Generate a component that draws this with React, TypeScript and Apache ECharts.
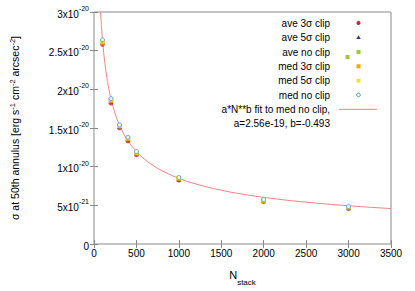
import React, { useEffect, useRef } from "react";
import * as echarts from "echarts";

// values in units of 1e-21 erg s^-1 cm^-2 arcsec^-2
const nStack = [100, 200, 300, 400, 500, 1000, 2000, 3000];
const ave3 = [25.8, 18.2, 15.0, 13.3, 11.5, 8.25, 5.5, 4.6];
const ave5 = [26.1, 18.5, 15.2, 13.6, 11.7, 8.4, 5.6, 4.7];
const aveNo = [26.2, 18.6, 15.3, 13.7, 11.8, 8.5, 5.65, 4.75];
const med3 = [26.0, 18.5, 15.2, 13.6, 11.7, 8.45, 5.6, 4.75];
const med5 = [26.2, 18.7, 15.3, 13.7, 11.85, 8.55, 5.7, 4.8];
const medNo = [26.4, 18.8, 15.4, 13.8, 11.95, 8.6, 5.75, 4.85];

const fitA = 256; // 2.56e-19 in units of 1e-21
const fitB = -0.493;
const fitN = [77, 80, 85, 90, 100, 110, 125, 150, 175, 200, 250, 300, 350, 400, 500, 600, 700, 800, 1000, 1200, 1500, 1800, 2100, 2500, 3000, 3500];

const yMant = ["0", "5", "1", "1.5", "2", "2.5", "3"];
const yExp = ["", "-21", "-20", "-20", "-20", "-20", "-20"];

const seriesNames = ["ave 3σ clip", "ave 5σ clip", "ave no clip", "med 3σ clip", "med 5σ clip", "med no clip"];
const fitLabel1 = "a*N**b fit to med no clip,";
const fitLabel2 = "a=2.56e-19, b=-0.493";

const FONT = '"Liberation Sans", Arial, sans-serif';
const GRAY = "#8a8a8a";
const FS = 10;

export default function App() {
  const ref = useRef<HTMLDivElement>(null);
  useEffect(() => {
    if (!ref.current) return;
    const chart = echarts.init(ref.current, undefined, { renderer: "svg" });
    const mk = (name: string, data: number[], symbol: string, color: string, size: number, hollow = false) => ({
      name,
      type: "scatter",
      data: nStack.map((n, i) => [n, data[i]]),
      symbol,
      symbolSize: size,
      itemStyle: hollow
        ? { color: "#fff", borderColor: color, borderWidth: 1 }
        : { color },
      z: 3,
    });
    const rowY = [23, 37.5, 52, 66.3, 80.7, 95];
    const textX = 330;
    const markX = 358.5;
    const legendText = (t: string, y: number) => ({
      type: "text",
      x: textX,
      y,
      style: { text: t, align: "right", verticalAlign: "middle", font: `${FS}px ${FONT}`, fill: "#000" },
    });
    const graphics: any[] = [];
    seriesNames.forEach((n, i) => graphics.push(legendText(n, rowY[i])));
    graphics.push(legendText(fitLabel1, 109.3));
    graphics.push(legendText(fitLabel2, 123.3));
    graphics.push({ type: "circle", shape: { cx: markX, cy: rowY[0], r: 2 }, style: { fill: "#d0202c" } });
    graphics.push({
      type: "polygon",
      shape: { points: [[markX, rowY[1] - 2.3], [markX - 2.2, rowY[1] + 1.6], [markX + 2.2, rowY[1] + 1.6]] },
      style: { fill: "#2a3590" },
    });
    graphics.push({ type: "rect", shape: { x: markX - 2, y: rowY[2] - 2, width: 4, height: 4 }, style: { fill: "#9acd32" } });
    graphics.push({ type: "rect", shape: { x: 345.5, y: 55, width: 4, height: 4 }, style: { fill: "#9acd32" } });
    graphics.push({ type: "rect", shape: { x: markX - 2, y: rowY[3] - 2, width: 4, height: 4 }, style: { fill: "#ffa500" } });
    graphics.push({ type: "rect", shape: { x: markX - 2, y: rowY[4] - 2, width: 4, height: 4 }, style: { fill: "#f0e040" } });
    graphics.push({ type: "circle", shape: { cx: markX, cy: rowY[5], r: 1.8 }, style: { fill: "#fff", stroke: "#3a9ae0", lineWidth: 1 } });
    graphics.push({ type: "line", shape: { x1: 339, y1: 109.3, x2: 377, y2: 109.3 }, style: { stroke: "#f08080", lineWidth: 1 } });

    const tickStyle = { inside: true, length: 4, lineStyle: { color: GRAY } };
    chart.setOption({
      animation: false,
      grid: { left: 87, right: 24, top: 12, bottom: 35, show: true, borderColor: GRAY, borderWidth: 1, backgroundColor: "transparent" },
      xAxis: [
        {
          type: "value",
          min: 0,
          max: 3500,
          interval: 500,
          axisLine: { show: false },
          axisTick: tickStyle,
          splitLine: { show: false },
          axisLabel: { fontFamily: FONT, fontSize: FS, color: "#000", margin: 4, formatter: (v: number) => String(v) },
          name: "{n|N}{s|stack}",
          nameLocation: "middle",
          nameGap: 25,
          nameTextStyle: {
            rich: {
              n: { fontFamily: FONT, fontSize: 11, color: "#000", lineHeight: 14, verticalAlign: "top" },
              s: { fontFamily: FONT, fontSize: 8, color: "#000", verticalAlign: "bottom", lineHeight: 14, padding: [0, 0, -3, 0] },
            },
          },
        },
        {
          type: "value",
          position: "top",
          min: 0,
          max: 3500,
          interval: 500,
          axisLine: { show: false },
          axisTick: tickStyle,
          splitLine: { show: false },
          axisLabel: { show: false },
        },
      ],
      yAxis: [
        {
          type: "value",
          min: 0,
          max: 30,
          interval: 5,
          axisLine: { show: false },
          axisTick: tickStyle,
          splitLine: { show: false },
          axisLabel: {
            margin: 5,
            formatter: (v: number) => {
              const i = Math.round(v / 5);
              if (i === 0) return "{m|0}";
              return `{m|${yMant[i]}x10}{e|${yExp[i]}}`;
            },
            rich: {
              m: { fontFamily: FONT, fontSize: FS, color: "#000", lineHeight: 14, verticalAlign: "bottom" },
              e: { fontFamily: FONT, fontSize: 7, color: "#000", lineHeight: 14, verticalAlign: "top" },
            },
          },
          name: "σ at 50th annulus [erg s{e|-1} cm{e|-2} arcsec{e|-2}]",
          nameLocation: "middle",
          nameGap: 72,
          nameRotate: 90,
          nameTextStyle: {
            fontFamily: FONT,
            fontSize: 10.5,
            color: "#000",
            lineHeight: 14,
            rich: {
              e: { fontFamily: FONT, fontSize: 7.5, color: "#000", lineHeight: 14, verticalAlign: "top" },
            },
          },
        },
        {
          type: "value",
          position: "right",
          min: 0,
          max: 30,
          interval: 5,
          axisLine: { show: false },
          axisTick: tickStyle,
          splitLine: { show: false },
          axisLabel: { show: false },
        },
      ],
      series: [
        {
          name: "fit",
          type: "line",
          data: fitN.map((n) => [n, fitA * Math.pow(n, fitB)]),
          smooth: true,
          showSymbol: false,
          clip: true,
          lineStyle: { color: "#f08080", width: 1 },
          z: 2,
        },
        mk(seriesNames[0], ave3, "circle", "#d0202c", 4.5),
        mk(seriesNames[1], ave5, "triangle", "#2a3590", 5),
        mk(seriesNames[2], aveNo, "rect", "#9acd32", 4.5),
        mk(seriesNames[3], med3, "rect", "#ffa500", 4.5),
        mk(seriesNames[4], med5, "rect", "#f0e040", 4.5),
        mk(seriesNames[5], medNo, "circle", "#3a9ae0", 4, true),
      ],
      graphic: graphics,
    });
    return () => chart.dispose();
  }, []);
  return <div ref={ref} style={{ width: 415, height: 291, position: "absolute", left: 0, top: 0, background: "#fff" }} />;
}
